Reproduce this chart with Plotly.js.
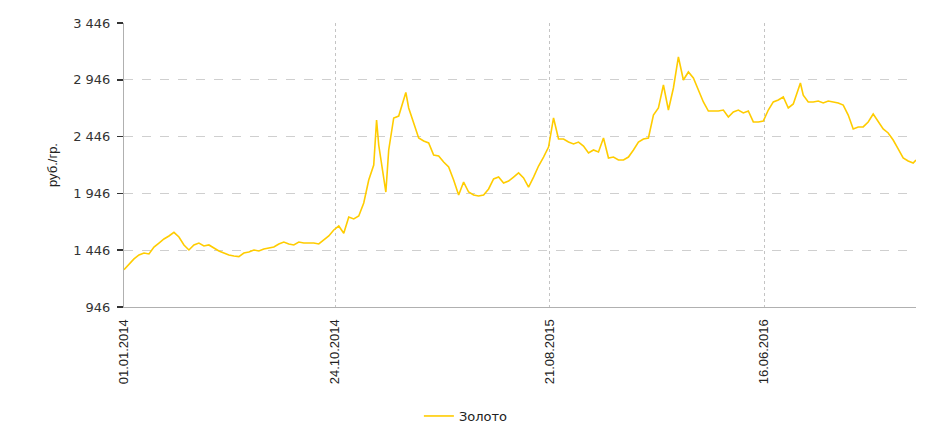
<!DOCTYPE html>
<html>
<head>
<meta charset="utf-8">
<script src="https://cdn.plot.ly/plotly-3.0.1.min.js"></script>
<style>html,body{margin:0;padding:0;background:#fff;}#chart{width:945px;height:432px;}</style>
</head>
<body>
<div id="chart"></div>
<script>
// Dates of the readings (weekly, plus a few extra points at sharp moves)
const dates = [
'2014-01-01','2014-01-08','2014-01-15','2014-01-22','2014-01-29','2014-02-05','2014-02-12','2014-02-19','2014-02-26',
'2014-03-05','2014-03-12','2014-03-19','2014-03-26','2014-04-02','2014-04-09','2014-04-16','2014-04-23','2014-04-30',
'2014-05-07','2014-05-14','2014-05-21','2014-05-28','2014-06-04','2014-06-11','2014-06-18','2014-06-25',
'2014-07-02','2014-07-09','2014-07-16','2014-07-23','2014-07-30','2014-08-06','2014-08-13','2014-08-20','2014-08-27',
'2014-09-03','2014-09-10','2014-09-17','2014-09-24','2014-10-01','2014-10-08','2014-10-15','2014-10-22','2014-10-29',
'2014-11-05','2014-11-12','2014-11-19','2014-11-26','2014-12-03','2014-12-10','2014-12-17','2014-12-21','2014-12-24',
'2014-12-31','2015-01-03','2015-01-07','2015-01-14','2015-01-21','2015-01-28','2015-01-31','2015-02-04','2015-02-11',
'2015-02-18','2015-02-25','2015-03-04','2015-03-11','2015-03-18','2015-03-25','2015-04-01','2015-04-08','2015-04-15',
'2015-04-22','2015-04-29','2015-05-06','2015-05-13','2015-05-20','2015-05-27','2015-06-03','2015-06-10','2015-06-17',
'2015-06-24','2015-07-01','2015-07-08','2015-07-15','2015-07-22','2015-07-29','2015-08-05','2015-08-12','2015-08-19',
'2015-08-26','2015-09-02','2015-09-09','2015-09-16','2015-09-23','2015-09-30','2015-10-07','2015-10-14','2015-10-21',
'2015-10-28','2015-11-04','2015-11-11','2015-11-18','2015-11-25','2015-12-02','2015-12-09','2015-12-16','2015-12-23',
'2015-12-30','2016-01-06','2016-01-13','2016-01-20','2016-01-27','2016-02-03','2016-02-10','2016-02-17','2016-02-24',
'2016-03-02','2016-03-09','2016-03-16','2016-03-23','2016-03-30','2016-04-06','2016-04-13','2016-04-20','2016-04-27',
'2016-05-04','2016-05-11','2016-05-18','2016-05-25','2016-06-01','2016-06-08','2016-06-15','2016-06-22','2016-06-29',
'2016-07-06','2016-07-13','2016-07-20','2016-07-27','2016-08-03','2016-08-06','2016-08-10','2016-08-17','2016-08-24',
'2016-08-31','2016-09-07','2016-09-14','2016-09-21','2016-09-28','2016-10-05','2016-10-12','2016-10-19','2016-10-26',
'2016-11-02','2016-11-09','2016-11-16','2016-11-23','2016-11-30','2016-12-07','2016-12-14','2016-12-21','2016-12-28',
'2017-01-04','2017-01-11','2017-01-15'
];
// Gold price, rub./gram
const gold = [
1275,1324,1369,1404,1421,1413,1474,1509,1545,
1571,1603,1562,1492,1448,1492,1509,1483,1492,
1465,1439,1421,1404,1395,1390,1421,1430,
1448,1439,1457,1465,1474,1501,1518,1501,1492,
1518,1509,1509,1509,1501,1536,1571,1624,1659,
1595,1738,1721,1747,1862,2064,2196,2592,2372,
2064,1958,2328,2610,2627,2786,2835,2698,2557,
2434,2407,2390,2284,2275,2222,2178,2064,1932,
2046,1958,1932,1923,1932,1985,2073,2090,2038,
2055,2090,2126,2082,2002,2090,2187,2266,2354,
2610,2425,2425,2398,2381,2398,2363,2302,2328,
2310,2434,2258,2266,2240,2240,2266,2328,2398,
2425,2434,2636,2698,2900,2680,2874,3147,2944,
3015,2962,2856,2751,2671,2671,2671,2680,2619,
2663,2680,2654,2671,2575,2575,2583,2680,2751,
2768,2795,2698,2733,2856,2918,2810,2751,2751,
2759,2742,2759,2751,2742,2724,2636,2513,2531,
2531,2575,2645,2583,2513,2478,2416,2337,2258,
2231,2214,2240
];
const seriesName = 'Золото';
const xTickVals = ['2014-01-01','2014-10-24','2015-08-21','2016-06-16'];
const xTickText = ['01.01.2014','24.10.2014','21.08.2015','16.06.2016'];
const yTickVals = [946,1446,1946,2446,2946,3446];
const yTickText = ['946','1 446','1 946','2 446','2 946','3 446'];
const yTitle = 'руб./гр.';

const trace = {
  x: dates, y: gold, type: 'scatter', mode: 'lines', name: seriesName,
  line: {color: '#FFCC00', width: 1.6}
};
const layout = {
  width: 945, height: 432,
  margin: {l: 124, r: 29, t: 23, b: 125, pad: 0},
  paper_bgcolor: '#ffffff', plot_bgcolor: '#ffffff',
  font: {family: 'Liberation Sans, Arial, sans-serif', size: 13, color: '#222'},
  showlegend: true,
  legend: {orientation: 'h', xref: 'container', yref: 'container', x: 0.493, xanchor: 'center', y: 0.037, yanchor: 'middle',
           font: {family: 'DejaVu Sans, sans-serif', size: 13, color: '#222'}, bgcolor: 'rgba(0,0,0,0)'},
  xaxis: {
    type: 'date', range: ['2014-01-01', '2017-01-15'], automargin: false,
    tickmode: 'array', tickvals: xTickVals, ticktext: xTickText, tickangle: -90,
    showgrid: true, gridcolor: '#c4c4c4', griddash: 'dot', gridwidth: 1,
    showline: true, linecolor: '#b0b0b0', linewidth: 1,
    ticks: '', ticklabelstandoff: 6, zeroline: false,
    tickfont: {family: 'Liberation Sans, Arial, sans-serif', size: 13, color: '#222'}
  },
  yaxis: {
    range: [946, 3446], tickmode: 'array', tickvals: yTickVals, ticktext: yTickText, automargin: false,
    showgrid: true, gridcolor: '#cfcfcf', griddash: 'dash', gridwidth: 1,
    showline: true, linecolor: '#b0b0b0', linewidth: 1, zeroline: false,
    ticks: 'outside', ticklen: 6, tickwidth: 1.5, tickcolor: '#333', ticklabelstandoff: 4,
    tickfont: {family: 'DejaVu Sans, sans-serif', size: 13, color: '#333'},
    title: {text: yTitle, font: {family: 'Liberation Sans, Arial, sans-serif', size: 13, color: '#222'}, standoff: 12}
  }
};
Plotly.newPlot('chart', [trace], layout, {displayModeBar: false, staticPlot: true});
</script>
</body>
</html>
